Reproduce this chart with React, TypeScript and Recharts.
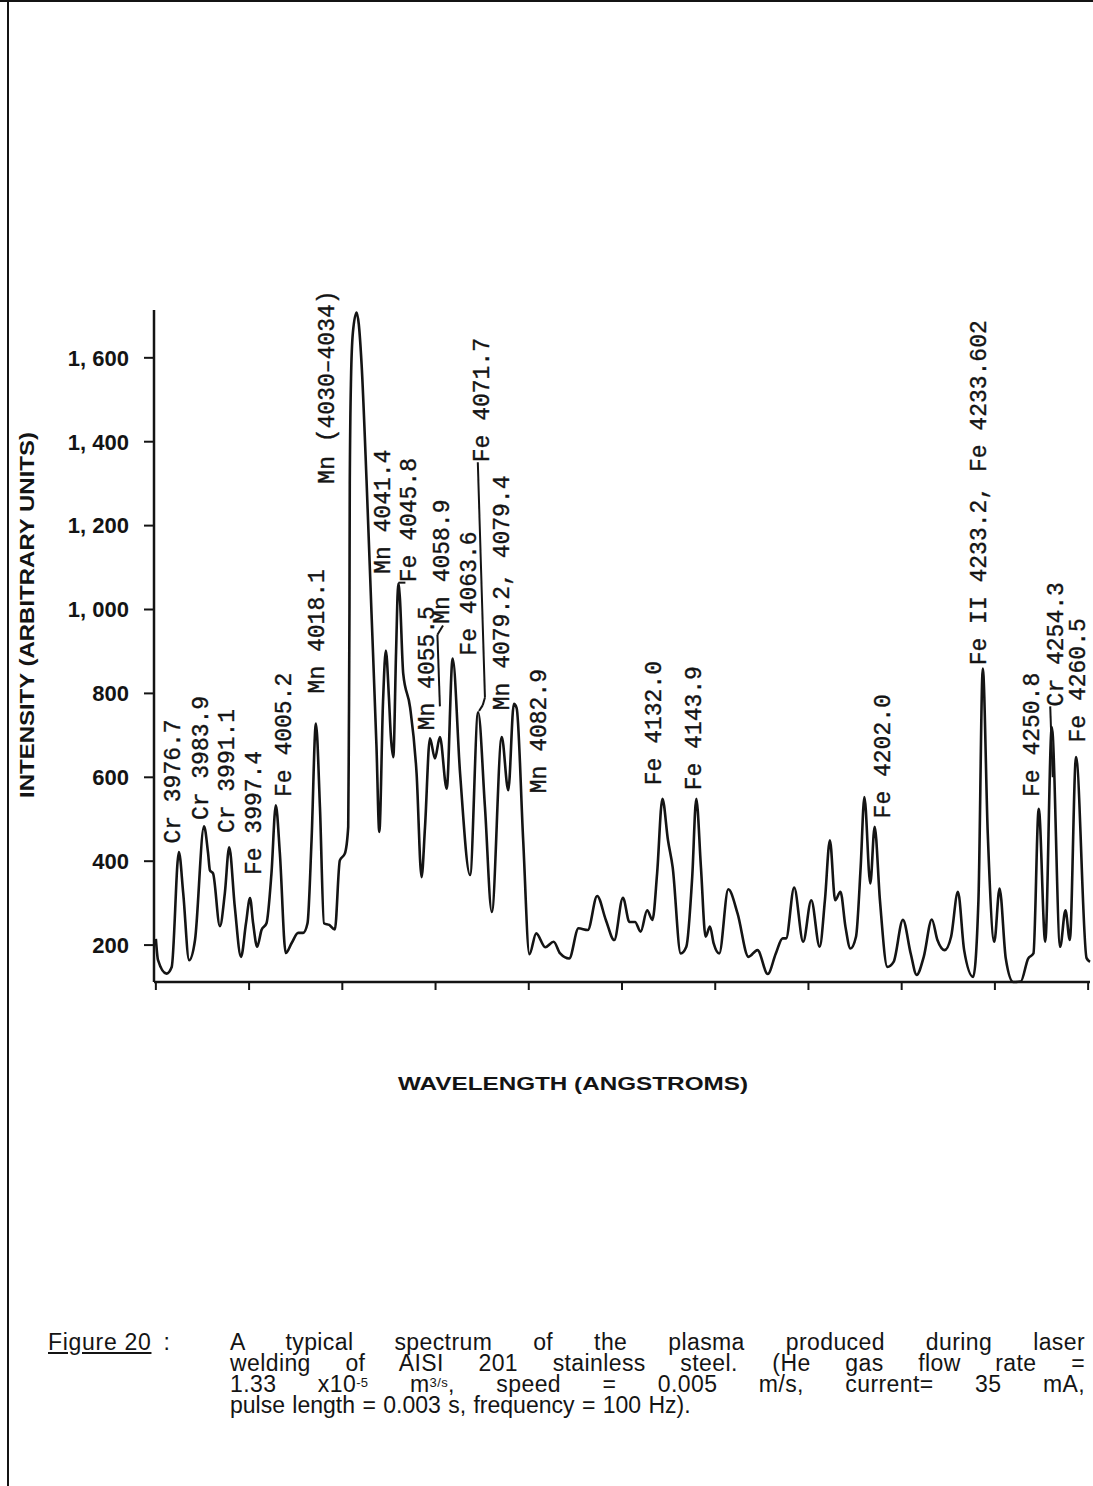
import { ComposedChart, Line, Scatter, XAxis, YAxis, ReferenceLine } from "recharts";

const WAVELENGTHS = [
  3970.0, 3970.7, 3973.4, 3975.1, 3977.4, 3978.8, 3980.7, 3982.6, 3985.5, 3986.8,
  3987.4, 3988.4, 3990.6, 3992.2, 3993.6, 3995.4, 3997.4, 3999.0, 4000.3, 4001.3,
  4002.6, 4004.0, 4005.6, 4007.2, 4008.6, 4009.9, 4011.8, 4013.7, 4015.8, 4017.4,
  4018.8, 4020.1, 4021.5, 4022.8, 4024.1, 4025.8, 4027.6, 4029.2, 4030.8, 4031.9,
  4032.1, 4032.3, 4032.4, 4032.8, 4033.4, 4034.6, 4035.3, 4036.2, 4037.8, 4039.4,
  4041.0, 4041.9, 4043.1, 4044.0, 4045.0, 4045.6, 4046.4, 4047.3, 4048.0, 4048.5,
  4049.6, 4051.8, 4053.9, 4055.5, 4056.6, 4058.2, 4059.8, 4061.4, 4063.6, 4065.5,
  4067.9, 4071.1, 4073.7, 4075.9, 4078.1, 4081.3, 4083.4, 4085.2, 4086.1, 4088.2,
  4090.2, 4092.4, 4095.3, 4098.0, 4100.1, 4103.0, 4106.0, 4109.0, 4112.0, 4114.8,
  4117.5, 4120.3, 4122.4, 4124.2, 4126.0, 4128.1, 4129.8, 4131.3, 4133.0, 4134.8,
  4136.3, 4138.9, 4140.7, 4142.6, 4143.9, 4145.4, 4146.9, 4148.3, 4149.5, 4151.3,
  4154.2, 4157.2, 4160.7, 4163.6, 4166.9, 4169.5, 4171.7, 4172.8, 4175.4, 4178.3,
  4180.9, 4183.6, 4185.3, 4186.9, 4188.6, 4190.3, 4191.9, 4193.5, 4195.3, 4196.8,
  4198.0, 4199.9, 4201.3, 4203.0, 4205.4, 4207.4, 4210.4, 4212.9, 4214.8, 4217.1,
  4219.7, 4221.5, 4223.8, 4225.9, 4228.1, 4230.1, 4233.0, 4234.7, 4236.1, 4237.7,
  4239.8, 4241.5, 4243.5, 4245.9, 4248.3, 4250.7, 4252.4, 4254.1, 4256.2, 4258.3,
  4261.0, 4262.7, 4264.1, 4266.1, 4269.5, 4270.6,
];

// Intensity (arbitrary units) at each wavelength above
const INTENSITIES = [
  215, 164, 132, 148, 422, 324, 164, 212, 483, 419,
  378, 371, 245, 324, 433, 291, 172, 252, 312, 252,
  196, 236, 252, 371, 533, 419, 181, 205, 229, 229,
  252, 450, 728, 529, 252, 248, 237, 402, 418, 482,
  700, 1000, 1300, 1550, 1660, 1708, 1680, 1585, 1307, 990,
  672, 470, 780, 902, 790, 700, 648, 900, 1062, 1030,
  847, 767, 609, 362, 480, 693, 645, 696, 573, 883,
  609, 367, 755, 529, 279, 696, 569, 775, 765, 450,
  178, 228, 195, 208, 180, 168, 240, 236, 317, 260,
  212, 313, 255, 255, 232, 283, 260, 371, 549, 450,
  386, 180, 196, 363, 549, 386, 220, 244, 204, 180,
  333, 275, 172, 188, 131, 180, 216, 216, 337, 208,
  307, 196, 307, 450, 307, 327, 244, 192, 220, 386,
  553, 347, 482, 307, 148, 160, 260, 180, 129, 172,
  261, 212, 188, 220, 327, 188, 124, 307, 859, 466,
  208, 335, 168, 112, 113, 168, 180, 525, 208, 720,
  196, 283, 212, 648, 169, 160,
];

// Line identifications: text, wavelength of the label column, intensity at the foot of the label
const LINE_NAMES = [
  "Cr 3976.7", "Cr 3983.9", "Cr 3991.1", "Fe 3997.4", "Fe 4005.2", "Mn 4018.1",
  "Mn (4030\u20134034)", "Mn 4041.4", "Fe 4045.8", "Mn 4055.5", "Mn 4058.9",
  "Fe 4063.6", "Fe 4071.7", "Mn 4079.2, 4079.4", "Mn 4082.9", "Fe 4132.0",
  "Fe 4143.9", "Fe 4202.0", "Fe II 4233.2, Fe 4233.602", "Fe 4250.8",
  "Cr 4254.3", "Fe 4260.5",
];
const LINE_WL = [
  3975.9, 3984.7, 3993.3, 4001.9, 4011.5, 4022.2, 4025.4, 4043.5, 4051.8, 4057.6,
  4062.5, 4071.1, 4075.4, 4081.8, 4093.6, 4130.7, 4143.6, 4204.2, 4235.3, 4252.4,
  4260.0, 4267.0,
];
const LINE_FOOT = [
  442, 498, 467, 367, 553, 800, 1300, 1085, 1065, 712,
  966, 890, 1351, 760, 562, 581, 569, 502, 867, 553,
  769, 683,
];

// Leader strokes tying crowded labels to their peaks, as [wavelength, intensity] pairs
const LEADERS = [
  [[4073.6, 1351], [4075.9, 790], [4075.2, 772], [4074.0, 758]],
  [[4062.4, 962], [4060.6, 940], [4061.4, 769]],
  [[4048.1, 1064], [4050.3, 1064]],
  [[4257.8, 769], [4258.6, 600]],
];

const Y_TICKS = [200, 400, 600, 800, 1000, 1200, 1400, 1600];
const X_TICKS = [3970, 4000, 4030, 4060, 4090, 4120, 4150, 4180, 4210, 4240, 4270];

const spectrum = WAVELENGTHS.map((wl, i) => ({ wl, v: INTENSITIES[i] }));
const peakLabels = LINE_NAMES.map((name, i) => ({ name, wl: LINE_WL[i], v: LINE_FOOT[i] }));

const INK = "#141414";
const MONO = "'Liberation Mono', 'DejaVu Sans Mono', monospace";
const SANS = "'Liberation Sans', Arial, sans-serif";

const formatIntensity = (v: number) =>
  v >= 1000 ? `${Math.floor(v / 1000)}, ${String(v % 1000).padStart(3, "0")}` : String(v);

const PeakLabel = (props: any) => {
  const { cx, cy, payload } = props;
  return (
    <text
      x={cx}
      y={cy}
      transform={`rotate(-90 ${cx} ${cy})`}
      textAnchor="start"
      dominantBaseline="central"
      fontFamily={MONO}
      fontSize={23}
      fill={INK}
      stroke={INK}
      strokeWidth={0.35}
    >
      {payload.name}
    </text>
  );
};

const captionLine = {
  height: 21,
  textAlign: "justify" as const,
  textAlignLast: "justify" as const,
  letterSpacing: 0.4,
};
const sup = { fontSize: 13, position: "relative" as const, top: -5, lineHeight: 0 };

export default function App() {
  return (
    <div
      style={{
        position: "absolute",
        left: 0,
        top: 0,
        width: 1093,
        height: 1486,
        overflow: "hidden",
        background: "#fff",
        color: INK,
      }}
    >
      <ComposedChart
        width={1093}
        height={1000}
        margin={{ top: 310, right: 3, bottom: 0, left: 0 }}
        style={{ position: "absolute", left: 0, top: 0 }}
      >
        <XAxis
          dataKey="wl"
          type="number"
          domain={[3969.4, 4270.6]}
          ticks={X_TICKS}
          height={18}
          tickSize={8}
          tickFormatter={() => ""}
          axisLine={{ stroke: INK, strokeWidth: 2.5 }}
          tickLine={{ stroke: INK, strokeWidth: 2 }}
        />
        <YAxis
          type="number"
          domain={[112, 1714]}
          ticks={Y_TICKS}
          width={154}
          tickSize={10}
          tickMargin={15}
          tickFormatter={formatIntensity}
          axisLine={{ stroke: INK, strokeWidth: 2.5 }}
          tickLine={{ stroke: INK, strokeWidth: 2 }}
          tick={{ fill: INK, fontFamily: SANS, fontWeight: 700, fontSize: 22 }}
        />
        <Line
          data={spectrum}
          dataKey="v"
          type="monotone"
          stroke={INK}
          strokeWidth={2.6}
          dot={false}
          activeDot={false}
          isAnimationActive={false}
        />
        {LEADERS.map((pts, i) =>
          pts.slice(1).map((p, j) => (
            <ReferenceLine
              key={`lead-${i}-${j}`}
              segment={[
                { x: pts[j][0], y: pts[j][1] },
                { x: p[0], y: p[1] },
              ]}
              stroke={INK}
              strokeWidth={2}
            />
          ))
        )}
        <Scatter
          data={peakLabels}
          dataKey="v"
          shape={PeakLabel}
          isAnimationActive={false}
        />
      </ComposedChart>

      <svg
        width={1093}
        height={1486}
        style={{ position: "absolute", left: 0, top: 0, pointerEvents: "none" }}
      >
        {/* page frame */}
        <line x1={0} y1={1} x2={1093} y2={1} stroke={INK} strokeWidth={2} />
        <line x1={8} y1={0} x2={8} y2={1486} stroke={INK} strokeWidth={2} />

        <text
          x={27}
          y={615}
          transform="rotate(-90 27 615)"
          textAnchor="middle"
          dominantBaseline="central"
          fontFamily={SANS}
          fontWeight={700}
          fontSize={20}
          textLength={366}
          lengthAdjust="spacingAndGlyphs"
          fill={INK}
        >
          INTENSITY (ARBITRARY UNITS)
        </text>
        <text
          x={573}
          y={1083}
          textAnchor="middle"
          dominantBaseline="central"
          fontFamily={SANS}
          fontWeight={700}
          fontSize={19}
          textLength={350}
          lengthAdjust="spacingAndGlyphs"
          fill={INK}
        >
          WAVELENGTH (ANGSTROMS)
        </text>
      </svg>

      {/* caption */}
      <div
        style={{
          position: "absolute",
          left: 48,
          top: 1332,
          fontFamily: SANS,
          fontSize: 23,
          lineHeight: "21px",
          letterSpacing: 0.7,
          whiteSpace: "nowrap",
        }}
      >
        <span style={{ textDecoration: "underline" }}>Figure 20</span>
        <span style={{ marginLeft: 12 }}>:</span>
      </div>
      <div
        style={{
          position: "absolute",
          left: 230,
          top: 1332,
          width: 855,
          fontFamily: SANS,
          fontSize: 23,
          lineHeight: "21px",
        }}
      >
        <div style={captionLine}>A typical spectrum of the plasma produced during laser</div>
        <div style={captionLine}>welding of AISI 201 stainless steel. (He gas flow rate =</div>
        <div style={captionLine}>
          1.33 x10<span style={sup}>-5</span> m<span style={sup}>3/s</span>, speed = 0.005 m/s,
          current= 35 mA,
        </div>
        <div style={{ height: 21, whiteSpace: "nowrap", wordSpacing: 1 }}>
          pulse length = 0.003 s, frequency = 100 Hz).
        </div>
      </div>
    </div>
  );
}
